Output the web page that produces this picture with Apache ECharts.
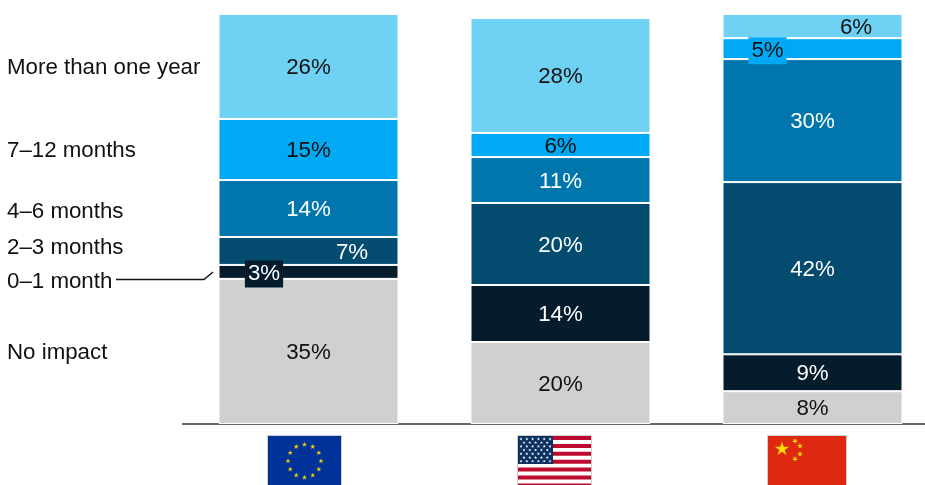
<!DOCTYPE html>
<html>
<head>
<meta charset="utf-8">
<style>html,body{margin:0;padding:0;background:#fff;overflow:hidden}#c{width:925px;height:485px}</style>
<script src="https://cdn.jsdelivr.net/npm/echarts@6/dist/echarts.min.js"></script>
</head>
<body>
<div id="c"></div>
<script>
const regions = ['EU', 'US', 'China'];
const durationNames = ['No impact', '0–1 month', '2–3 months', '4–6 months', '7–12 months', 'More than one year'];
const noImpact = [35.4, 20, 8];
const zeroToOne = [3.4, 13.9, 9];
const twoToThree = [6.8, 20, 42];
const fourToSix = [13.9, 11.2, 30];
const sevenToTwelve = [14.9, 5.9, 5.1];
const moreThanYear = [25.6, 28, 5.9];
const seriesValues = [noImpact, zeroToOne, twoToThree, fourToSix, sevenToTwelve, moreThanYear];

const colors = ['#d0d0d0', '#051c2c', '#034b6f', '#0076ad', '#00a9f4', '#6fd1f3'];
const labelColors = ['#111', '#fff', '#fff', '#fff', '#111', '#111'];
const FONT = '"Liberation Sans", Arial, sans-serif';
const FS = 22.3;

// label placement exceptions: "seriesIndex-dataIndex"
const labelOverrides = {
  '2-0': { offset: [43.5, 2] },
  '1-0': { offset: [-44.5, 2], backgroundColor: '#051c2c', padding: [3, 3, 2, 3] },
  '5-2': { offset: [43.5, 2] },
  '4-2': { offset: [-45, 2], backgroundColor: '#00a9f4', padding: [3, 3, 2, 3] }
};

const series = seriesValues.map((vals, si) => ({
  name: durationNames[si],
  type: 'bar',
  stack: 'total',
  barWidth: 180,
  itemStyle: { color: colors[si], borderColor: '#fff', borderWidth: 1 },
  label: {
    show: true, position: 'inside', fontFamily: FONT, fontSize: FS, offset: [0, 1.5],
    color: labelColors[si], formatter: p => Math.round(p.value) + '%'
  },
  data: vals.map((v, di) => {
    const o = labelOverrides[si + '-' + di];
    return o ? { value: v, label: o } : v;
  })
}));

const leftLabels = [
  ['More than one year', 67], ['7–12 months', 150], ['4–6 months', 211],
  ['2–3 months', 247], ['0–1 month', 281], ['No impact', 352]
];

function starPoints(cx, cy, r, rot) {
  const pts = [];
  for (let i = 0; i < 10; i++) {
    const a = -Math.PI / 2 + (rot || 0) + i * Math.PI / 5;
    const rad = i % 2 ? r * 0.382 : r;
    pts.push([cx + rad * Math.cos(a), cy + rad * Math.sin(a)]);
  }
  return pts;
}
function star(cx, cy, r, fill, rot) {
  return { type: 'polygon', silent: true, shape: { points: starPoints(cx, cy, r, rot) }, style: { fill }, z: 12 };
}
function rect(x, y, w, h, fill, stroke) {
  return { type: 'rect', silent: true, shape: { x, y, width: w, height: h }, style: { fill, stroke: stroke || null, lineWidth: stroke ? 1 : 0 }, z: 11 };
}

const g = [];
leftLabels.forEach(([t, y]) => g.push({
  type: 'text', silent: true, left: 7, top: y - 10,
  style: { text: t, fontFamily: FONT, fontSize: FS, fill: '#111' }
}));
g.push({ type: 'polyline', silent: true, shape: { points: [[116, 279.5], [204, 279.5], [213, 272]] }, style: { stroke: '#111', lineWidth: 1.4, fill: null } });

// EU flag
g.push(rect(267.5, 435.5, 74, 60, '#003399', '#cfcfcf'));
for (let i = 0; i < 12; i++) {
  const a = i * Math.PI / 6;
  g.push(star(304.5 + 16.5 * Math.sin(a), 461 - 16.5 * Math.cos(a), 2.8, '#ffcc00'));
}
// US flag
g.push(rect(517.5, 435.5, 74, 60, '#ffffff', '#cfcfcf'));
for (let i = 0; i < 7; i++) g.push(rect(518, 436 + i * 7.9, 73, 4, '#bf0a30'));
g.push(rect(518, 436, 35, 28, '#0a3161'));
for (let r = 0; r < 7; r++) for (let c = 0; c < (r % 2 ? 5 : 6); c++) {
  g.push(star(521 + (r % 2 ? 3 : 0) + c * 5.8, 439 + r * 3.7, 1.7, '#ffffff'));
}
// China flag
g.push(rect(767.5, 435.5, 79, 60, '#de2910', '#cfcfcf'));
g.push(star(782, 449, 7.5, '#ffde00'));
[[795, 441, 0.6], [800, 446, 1.2], [800, 454, 0], [795, 459, 0.6]].forEach(s => g.push(star(s[0], s[1], 3, '#ffde00', s[2])));

const chart = echarts.init(document.getElementById('c'), null, { renderer: 'canvas' });
chart.setOption({
  animation: false,
  backgroundColor: '#fff',
  grid: { left: 182.5, top: 14, width: 756, height: 410, containLabel: false, outerBoundsMode: 'none' },
  xAxis: {
    type: 'category', data: regions,
    axisLine: { show: true, lineStyle: { color: '#333', width: 1.5 } },
    axisTick: { show: false }, axisLabel: { show: false }
  },
  yAxis: { type: 'value', min: 0, max: 100, show: false, splitLine: { show: false } },
  series,
  graphic: g
});
</script>
</body>
</html>
